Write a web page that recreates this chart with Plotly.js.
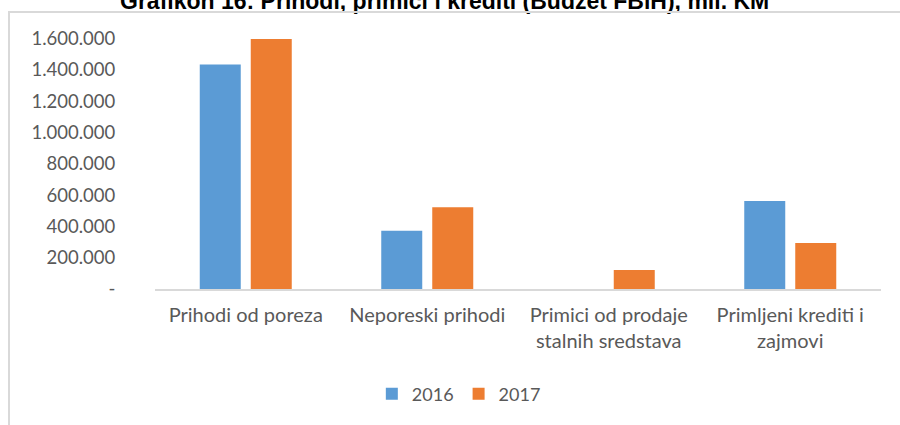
<!DOCTYPE html>
<html>
<head>
<meta charset="utf-8">
<script src="https://cdn.plot.ly/plotly-3.0.1.min.js"></script>
<style>
html, body { margin: 0; padding: 0; background: #fff; }
#wrap { position: relative; width: 900px; height: 425px; overflow: hidden; }
#chart { width: 900px; height: 425px; }
#frame { position: absolute; left: 8px; top: 11px; width: 920px; height: 440px;
  border-left: 2px solid #d9d9d9; border-top: 2px solid #d9d9d9; pointer-events: none; }
</style>
</head>
<body>
<div id="wrap">
<div id="chart"></div>
<div id="frame"></div>
</div>
<script>
const titleText = "Grafikon 16: Prihodi, primici i krediti (Budžet FBiH), mil. KM";
const categories = ["Prihodi od poreza", "Neporeski prihodi", "Primici od prodaje<br>stalnih sredstava", "Primljeni krediti i<br>zajmovi"];
const seriesNames = ["2016", "2017"];
const values2016 = [1434000, 373000, 0, 563000];
const values2017 = [1598000, 523000, 122000, 294000];
const yTickVals = [0, 200000, 400000, 600000, 800000, 1000000, 1200000, 1400000, 1600000];
const yTickText = ["-", "200.000", "400.000", "600.000", "800.000", "1.000.000", "1.200.000", "1.400.000", "1.600.000"];

const fontFam = "Lato, 'Open Sans', sans-serif";
const traces = [
  { type: "bar", name: seriesNames[0], x: categories, y: values2016,
    marker: { color: "#5B9BD5", line: { width: 0 } }, hoverinfo: "y" },
  { type: "bar", name: seriesNames[1], x: categories, y: values2017,
    marker: { color: "#ED7D31", line: { width: 0 } }, hoverinfo: "y" }
];
const layout = {
  width: 900, height: 425,
  margin: { l: 155, r: 19, t: 23, b: 136 },
  paper_bgcolor: "#fff", plot_bgcolor: "#fff",
  barmode: "group", bargap: 0.438, bargroupgap: 0.196,
  title: { text: "<b>" + titleText + "</b>", x: 0.494, xref: "container", xanchor: "center",
    y: 0.9976, yref: "container", yanchor: "middle",
    font: { family: "'Liberation Sans', Arial, sans-serif", size: 23, color: "#000" } },
  xaxis: { type: "category", showgrid: false, zeroline: false, showline: true,
    linecolor: "#d9d9d9", linewidth: 2, ticks: "outside", ticklen: 7, tickcolor: "rgba(0,0,0,0)",
    tickfont: { family: fontFam, size: 20, color: "#595959" } },
  yaxis: { range: [0, 1700000], showgrid: false, zeroline: false, showline: false,
    tickvals: yTickVals, ticktext: yTickText, ticks: "outside", ticklen: 35,
    tickcolor: "rgba(0,0,0,0)",
    tickfont: { family: fontFam, size: 18.5, color: "#595959" } },
  showlegend: true,
  legend: { orientation: "h", x: 0.4185, xanchor: "center", y: -0.395, yanchor: "middle",
    font: { family: fontFam, size: 18, color: "#595959" }, itemwidth: 30, traceorder: "normal" }
};
Plotly.newPlot("chart", traces, layout, { displayModeBar: false, staticPlot: true });
</script>
</body>
</html>
